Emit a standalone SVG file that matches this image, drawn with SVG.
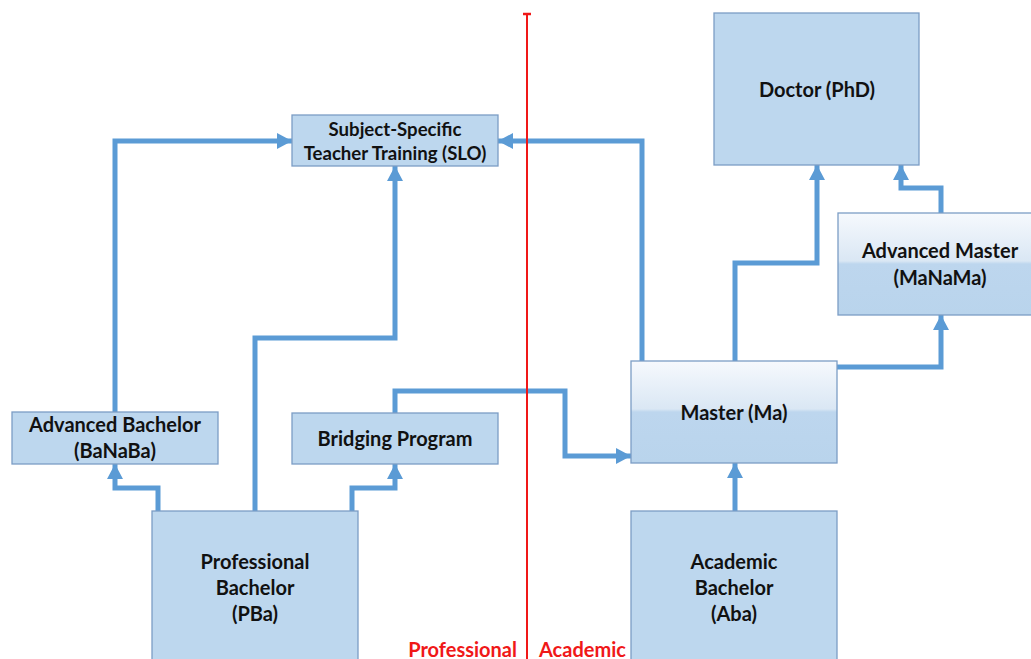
<svg xmlns="http://www.w3.org/2000/svg" width="1031" height="659" viewBox="0 0 1031 659">
<defs>
<style>
.box{fill:#BDD7EE;stroke:#7C9DC5;stroke-width:1.3}
.grad{fill:url(#g1);stroke:#7C9DC5;stroke-width:1.3}
.t{font-family:Lato,"Open Sans","Liberation Sans",sans-serif;font-weight:bold;font-size:20px;fill:#111;text-anchor:middle}
.s{font-size:18.6px}
.red{font-family:Lato,"Open Sans","Liberation Sans",sans-serif;font-weight:bold;font-size:20px;fill:#F01818}
.c{fill:none;stroke:#5B9BD5;stroke-width:5;stroke-linejoin:miter;marker-end:url(#ah)}
</style>
<linearGradient id="g1" x1="0" y1="0" x2="0" y2="1">
<stop offset="0" stop-color="#F6F9FD"/>
<stop offset="0.47" stop-color="#DAE7F4"/>
<stop offset="0.5" stop-color="#BDD6EE"/>
<stop offset="1" stop-color="#B9D4EC"/>
</linearGradient>
<marker id="ah" markerUnits="userSpaceOnUse" markerWidth="18" markerHeight="18" refX="15" refY="8" orient="auto">
<path d="M0,0 L15,8 L0,16 Z" fill="#5B9BD5"/>
</marker>
</defs>
<rect width="1031" height="659" fill="#fff"/>

<g id="connectors">
<path class="c" d="M115,412 V141 H292"/>
<path class="c" d="M158,511 V488 H115 V464"/>
<path class="c" d="M255,511 V338 H395 V166"/>
<path class="c" d="M352,511 V488 H395 V464"/>
<path class="c" d="M395,413 V391 H565 V456 H631"/>
<path class="c" d="M642,361 V141 H498"/>
<path class="c" d="M735,361 V263 H817 V165"/>
<path class="c" d="M837,367 H941 V315"/>
<path class="c" d="M941,213 V188 H901 V165"/>
<path class="c" d="M735,511 V463"/>
</g>

<g id="divider">
<line x1="527" y1="14" x2="527" y2="659" stroke="#F01818" stroke-width="2"/>
<line x1="523" y1="14" x2="531" y2="14" stroke="#F01818" stroke-width="2.5"/>
<text class="red" x="517" y="657" text-anchor="end">Professional</text>
<text class="red" x="539" y="657">Academic</text>
</g>

<g id="slo">
<rect class="box" x="292" y="115" width="206" height="51"/>
<text class="t s" x="395" y="136">Subject-Specific</text>
<text class="t s" x="395" y="160">Teacher Training (SLO)</text>
</g>
<g id="doctor">
<rect class="box" x="714" y="13" width="205" height="152"/>
<text class="t" x="817" y="97">Doctor (PhD)</text>
</g>
<g id="manama">
<rect class="grad" x="838" y="213" width="200" height="102"/>
<text class="t" x="940" y="258">Advanced Master</text>
<text class="t" x="940" y="285">(MaNaMa)</text>
</g>
<g id="master">
<rect class="grad" x="631" y="361" width="206" height="102"/>
<text class="t" x="734" y="420">Master (Ma)</text>
</g>
<g id="banaba">
<rect class="box" x="12" y="412" width="206" height="52"/>
<text class="t" x="115" y="432">Advanced Bachelor</text>
<text class="t" x="115" y="458">(BaNaBa)</text>
</g>
<g id="bridging">
<rect class="box" x="292" y="413" width="206" height="51"/>
<text class="t" x="395" y="446">Bridging Program</text>
</g>
<g id="pba">
<rect class="box" x="152" y="511" width="206" height="160"/>
<text class="t" x="255" y="569">Professional</text>
<text class="t" x="255" y="595">Bachelor</text>
<text class="t" x="255" y="621">(PBa)</text>
</g>
<g id="aba">
<rect class="box" x="631" y="511" width="206" height="160"/>
<text class="t" x="734" y="569">Academic</text>
<text class="t" x="734" y="595">Bachelor</text>
<text class="t" x="734" y="621">(Aba)</text>
</g>
</svg>
